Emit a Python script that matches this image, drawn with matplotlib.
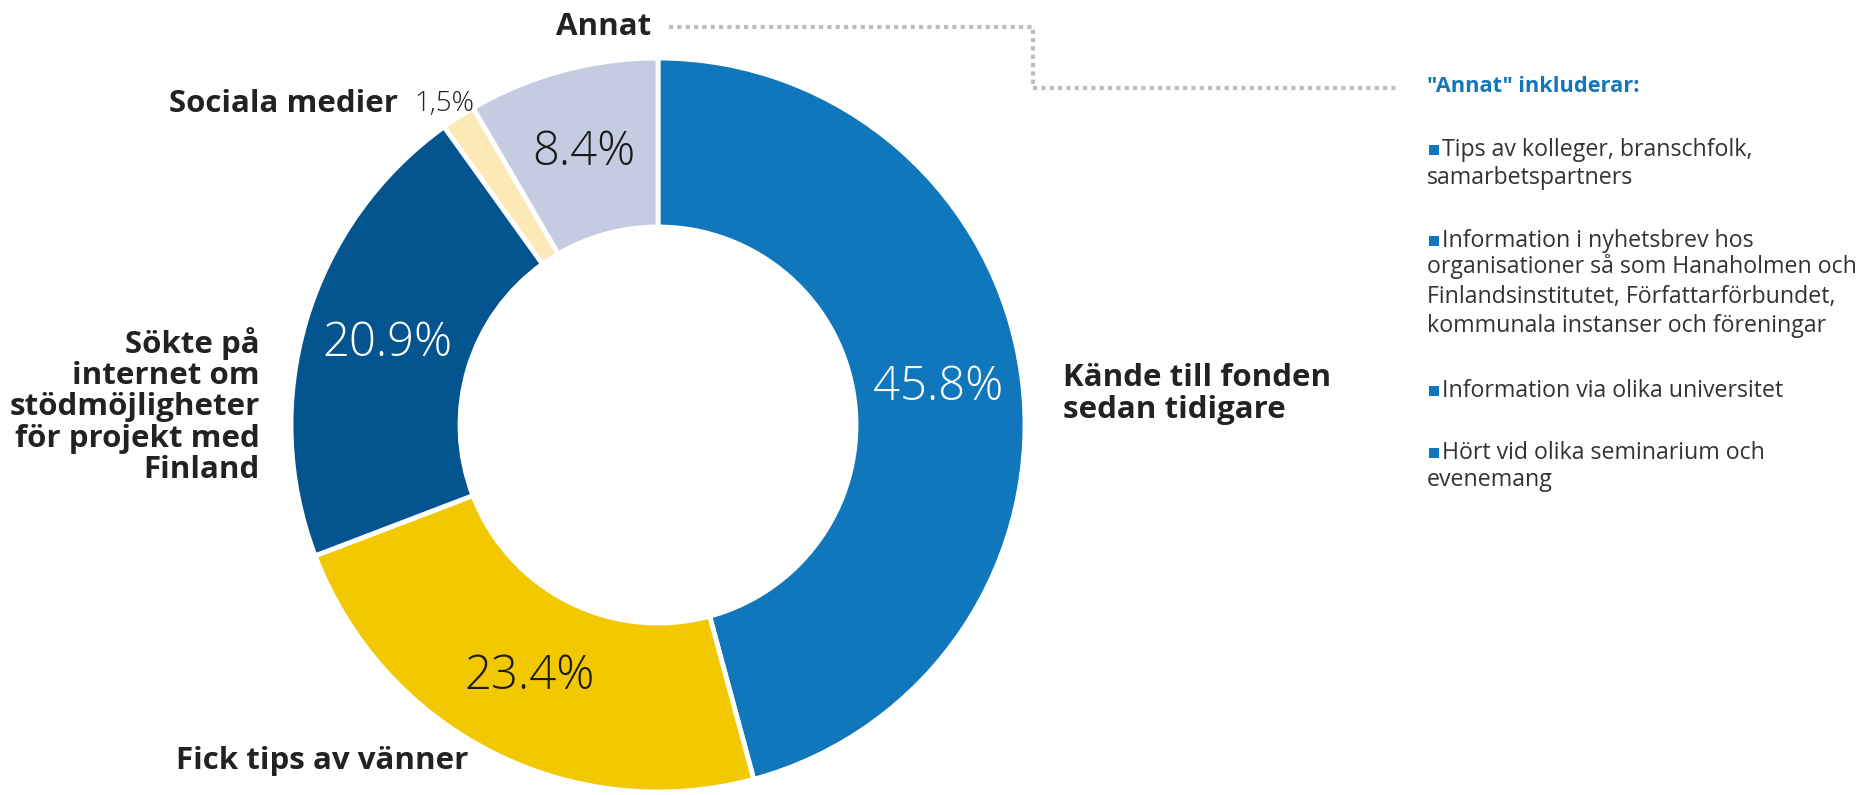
import numpy as np
import matplotlib.pyplot as plt
from matplotlib.patches import Rectangle

plt.rcParams['font.family'] = ['Open Sans', 'DejaVu Sans']

# data
labels = ['Kände till fonden\nsedan tidigare', 'Fick tips av vänner',
          'Sökte på\ninternet om\nstödmöjligheter\nför projekt med\nFinland',
          'Sociala medier', 'Annat']
values = [45.8, 23.4, 20.9, 1.5, 8.4]
colors = ['#1077BC', '#F2C800', '#04558F', '#FDE9B5', '#C5CCE2']
pct_colors = ['white', '#1a1a1a', 'white', '#1a1a1a', '#1a1a1a']

annat_title = '"Annat" inkluderar:'
annat_items = ['Tips av kolleger, branschfolk,\nsamarbetspartners',
               'Information i nyhetsbrev hos\norganisationer så som Hanaholmen och\n'
               'Finlandsinstitutet, Författarförbundet,\nkommunala instanser och föreningar',
               'Information via olika universitet',
               'Hört vid olika seminarium och\nevenemang']

W, H = 1872, 795
fig = plt.figure(figsize=(W / 100, H / 100), dpi=100)
ax = fig.add_axes([0, 0, 1, 1])
ax.axis('off')

cx, cy = 658, H - 425
R, ring = 367, 169
wedges, _ = ax.pie(values, colors=colors, startangle=90, counterclock=False,
                   center=(cx, cy), radius=R,
                   wedgeprops=dict(width=ring, edgecolor='white', linewidth=3.5))
ax.set_xlim(0, W)
ax.set_ylim(0, H)
ax.set_aspect('equal')

dark = '#222222'
# percentages in the middle of the ring (small slice is labelled outside)
for w, v, c in zip(wedges, values, pct_colors):
    if v < 5:
        continue
    ang = np.deg2rad((w.theta1 + w.theta2) / 2)
    r = R - ring / 2
    ax.text(cx + r * np.cos(ang), cy + r * np.sin(ang), f'{v:.1f}%',
            ha='center', va='center', fontsize=34, color=c, fontweight='light')

# category labels
fs = 22.5
ax.text(1063, H - 394, labels[0], ha='left', va='center', fontsize=fs,
        fontweight='bold', color=dark, linespacing=1.05)
ax.text(322, H - 761, labels[1], ha='center', va='center', fontsize=fs,
        fontweight='bold', color=dark)
ax.text(260, H - 406, labels[2], ha='right', va='center', fontsize=fs,
        fontweight='bold', color=dark, linespacing=1.06)
ax.text(398, H - 104, labels[3], ha='right', va='center', fontsize=fs,
        fontweight='bold', color=dark)
ax.text(414, H - 104, f'{values[3]:.1f}%'.replace('.', ','), ha='left', va='center',
        fontsize=20, color=dark, fontweight='light')
ax.text(651, H - 27, labels[4], ha='right', va='center', fontsize=fs,
        fontweight='bold', color=dark)

# dotted connector
ax.plot([669, 1033, 1033, 1397], [H - 27, H - 27, H - 88, H - 88],
        color='#BDBDBD', lw=3, linestyle=(0, (1, 1)), solid_capstyle='butt')

# right side panel
blue = '#1077BC'
ax.text(1427, H - 86, annat_title, ha='left', va='center', fontsize=15.7,
        fontweight='bold', color=blue)
centers = [150, 241, 391, 453]
step = 27.5
for yc, item in zip(centers, annat_items):
    ax.add_patch(Rectangle((1429, H - yc - 5), 10, 10, color=blue, lw=0))
    first, _, rest = item.partition('\n')
    ax.text(1442, H - yc, first, ha='left', va='center', fontsize=16.7,
            color='#333333')
    if rest:
        n = rest.count('\n') + 1
        ax.text(1427, H - yc - step * (n + 1) / 2, rest, ha='left',
                va='center', fontsize=16.7, color='#333333', linespacing=1.33)

fig.savefig('out.png', dpi=100)
